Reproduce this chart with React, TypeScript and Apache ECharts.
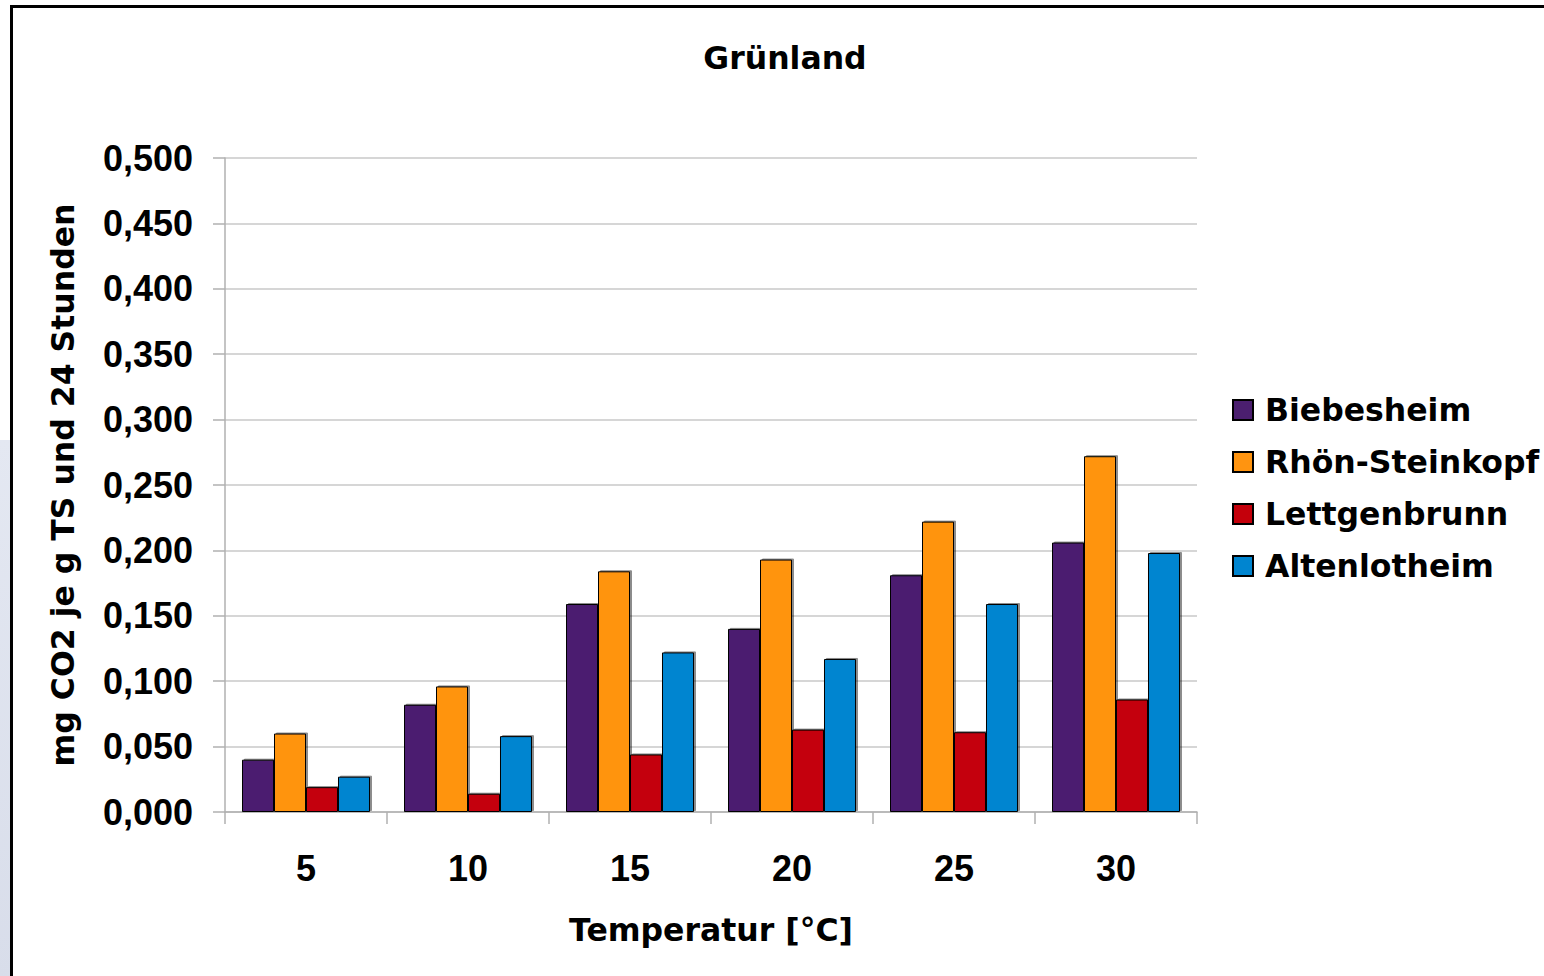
import React, { useEffect, useRef } from "react";
import * as echarts from "echarts";

const categories = ["5", "10", "15", "20", "25", "30"];
const biebesheim = [0.040, 0.082, 0.159, 0.140, 0.181, 0.206];
const rhoenSteinkopf = [0.060, 0.096, 0.184, 0.193, 0.222, 0.272];
const lettgenbrunn = [0.019, 0.014, 0.044, 0.063, 0.061, 0.086];
const altenlotheim = [0.027, 0.058, 0.122, 0.117, 0.159, 0.198];

const seriesNames = ["Biebesheim", "Rhön-Steinkopf", "Lettgenbrunn", "Altenlotheim"];
const seriesColors = ["#4b1f6f", "#ff9410", "#c4000b", "#0085d0"];
const seriesData = [biebesheim, rhoenSteinkopf, lettgenbrunn, altenlotheim];

const WORD_FONT = "'DejaVu Sans', sans-serif";
const NUM_FONT = "'Liberation Sans', Arial, sans-serif";

export default function App() {
  const ref = useRef<HTMLDivElement>(null);

  useEffect(() => {
    if (!ref.current) return;
    const chart = echarts.init(ref.current, null, { renderer: "svg" });
    chart.setOption({
      animation: false,
      backgroundColor: "#ffffff",
      title: {
        text: "Grünland",
        left: 780,
        top: 37,
        textAlign: "center",
        textStyle: { fontFamily: WORD_FONT, fontWeight: "bold", fontSize: 31.5, color: "#000" },
      },
      graphic: [
        {
          type: "rect",
          shape: { x: 0, y: 440, width: 10, height: 540 },
          style: {
            fill: new echarts.graphic.LinearGradient(0, 0, 0, 1, [
              { offset: 0, color: "#e4e8f2" },
              { offset: 1, color: "#d8ddea" },
            ]),
          },
          silent: true,
        },
        {
          type: "rect",
          shape: { x: 11.5, y: 6.5, width: 2000, height: 2000 },
          style: { fill: "none", stroke: "#000", lineWidth: 3 },
          silent: true,
        },
      ],
      legend: {
        orient: "vertical",
        left: 1227,
        top: 389,
        itemWidth: 20,
        itemHeight: 20,
        itemGap: 20,
        icon: "rect",
        data: seriesNames,
        textStyle: {
          fontFamily: WORD_FONT,
          fontWeight: "bold",
          fontSize: 31.5,
          lineHeight: 32,
          color: "#000",
          padding: [0, 0, 0, 7],
        },
      },
      grid: { left: 225, top: 158, width: 972, height: 654, containLabel: false },
      xAxis: {
        type: "category",
        data: categories,
        name: "Temperatur [°C]",
        nameLocation: "middle",
        nameGap: 102,
        nameTextStyle: { fontFamily: WORD_FONT, fontWeight: "bold", fontSize: 31.5, color: "#000" },
        axisLine: { show: true, lineStyle: { color: "#b0b0b0", width: 1.5 } },
        axisTick: { show: true, length: 12, lineStyle: { color: "#b0b0b0", width: 1.5 } },
        axisLabel: { fontFamily: NUM_FONT, fontWeight: "bold", fontSize: 36, color: "#000", margin: 38 },
      },
      yAxis: {
        type: "value",
        min: 0,
        max: 0.5,
        interval: 0.05,
        name: "mg CO2 je g TS und 24 Stunden",
        nameLocation: "middle",
        nameGap: 146,
        nameTextStyle: { fontFamily: WORD_FONT, fontWeight: "bold", fontSize: 31.5, color: "#000" },
        axisLine: { show: true, lineStyle: { color: "#b0b0b0", width: 1.5 } },
        axisTick: { show: true, length: 12, lineStyle: { color: "#b0b0b0", width: 1.5 } },
        splitLine: { show: true, lineStyle: { color: "#c8c8c8", width: 1.5 } },
        axisLabel: {
          fontFamily: NUM_FONT,
          fontWeight: "bold",
          fontSize: 36,
          color: "#000",
          margin: 32,
          formatter: (v: number) => v.toFixed(3).replace(".", ","),
        },
      },
      series: seriesNames.map((name, i) => ({
        name,
        type: "bar",
        data: seriesData[i],
        barGap: "0%",
        barCategoryGap: "21%",
        itemStyle: {
          color: seriesColors[i],
          borderColor: "#000",
          borderWidth: 1,
          shadowColor: "rgba(0,0,0,0.45)",
          shadowBlur: 0,
          shadowOffsetX: 2,
          shadowOffsetY: -1,
        },
      })),
    });
    return () => chart.dispose();
  }, []);

  return (
    <div
      ref={ref}
      style={{ position: "absolute", left: 0, top: 0, width: 1544, height: 976, background: "#fff" }}
    />
  );
}
